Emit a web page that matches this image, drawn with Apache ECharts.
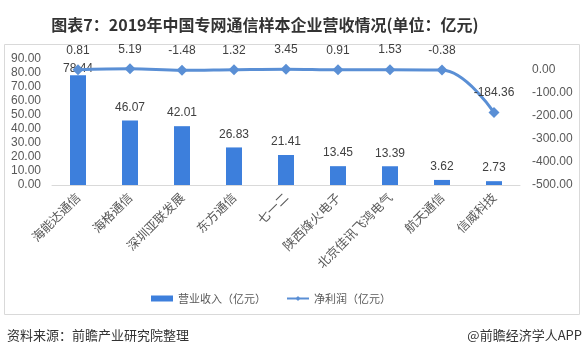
<!DOCTYPE html>
<html><head><meta charset="utf-8">
<script src="https://cdn.jsdelivr.net/npm/echarts@6/dist/echarts.min.js"></script>
<style>html,body{margin:0;padding:0;background:#fff;}#c{width:582px;height:357px;}</style>
</head><body><div id="c"></div>
<script>
const categories = ['海能达通信','海格通信','深圳亚联发展','东方通信','七一二','陕西烽火电子','北京佳讯飞鸿电气','航天通信','信威科技'];
const revenue = [78.44, 46.07, 42.01, 26.83, 21.41, 13.45, 13.39, 3.62, 2.73];
const profit = [0.81, 5.19, -1.48, 1.32, 3.45, 0.91, 1.53, -0.38, -184.36];
const leftTicks = {min: 0, max: 90, interval: 10};
const rightTicks = {min: -500, max: 0, interval: 100};

const chart = echarts.init(document.getElementById('c'));
const fontF = '"Liberation Sans","Noto Sans CJK SC",sans-serif';
chart.setOption({
  animation: false,
  title: {
    text: '图表7：2019年中国专网通信样本企业营收情况(单位：亿元)',
    left: 260, textAlign: 'center', top: 12,
    textStyle: {fontSize: 16, fontWeight: 'bold', color: '#333', fontFamily: '"Noto Sans CJK SC",sans-serif'}
  },
  graphic: [
    {type: 'rect', shape: {x: 4.5, y: 44.5, width: 575, height: 270}, style: {fill: 'none', stroke: '#d9d9d9', lineWidth: 1}, z: -1},
    {type: 'text', left: 7, top: 329, style: {text: '资料来源：前瞻产业研究院整理', fontSize: 13, fill: '#333', fontFamily: '"Noto Sans CJK SC",sans-serif'}},
    {type: 'text', right: 0, top: 329, style: {text: '@前瞻经济学人APP', fontSize: 13, fill: '#333', fontFamily: '"Noto Sans CJK SC",sans-serif'}}
  ],
  legend: {
    left: 146, top: 288, itemGap: 20,
    textStyle: {fontSize: 11, color: '#595959', fontFamily: '"Noto Sans CJK SC",sans-serif'},
    data: [
      {name: '营业收入（亿元）', icon: 'rect', itemStyle: {color: '#3d7fdc'}},
      {name: '净利润（亿元）'}
    ],
    itemWidth: 22, itemHeight: 6
  },
  grid: [
    {left: 52, right: 62, top: 59, bottom: 172},
    {left: 52, right: 62, top: 70, bottom: 172}
  ],
  xAxis: [
    {type: 'category', gridIndex: 0, data: categories,
     axisLine: {lineStyle: {color: '#d9d9d9'}}, axisTick: {show: false},
     axisLabel: {rotate: 45, interval: 0, margin: 10, fontSize: 12.5, color: '#595959', fontFamily: '"Noto Sans CJK SC",sans-serif'}},
    {type: 'category', gridIndex: 1, data: categories, show: false, axisLabel: {interval: 0}}
  ],
  yAxis: [
    {type: 'value', gridIndex: 0, position: 'left', min: leftTicks.min, max: leftTicks.max, interval: leftTicks.interval,
     splitLine: {show: false}, axisLine: {show: false}, axisTick: {show: false},
     axisLabel: {margin: 11, fontSize: 12, color: '#595959', fontFamily: fontF, formatter: v => v.toFixed(2)}},
    {type: 'value', gridIndex: 1, position: 'right', min: rightTicks.min, max: rightTicks.max, interval: rightTicks.interval,
     splitLine: {show: false}, axisLine: {show: false}, axisTick: {show: false},
     axisLabel: {margin: 12, fontSize: 12, color: '#595959', fontFamily: fontF, formatter: v => v.toFixed(2)}}
  ],
  series: [
    {name: '营业收入（亿元）', type: 'bar', xAxisIndex: 0, yAxisIndex: 0, barWidth: 16,
     data: revenue.map((v, i) => i === 0 ? {value: v, label: {distance: 0}} : v),
     itemStyle: {color: '#3d7fdc'},
     label: {show: true, position: 'top', distance: 7, fontSize: 12, color: '#404040', fontFamily: fontF, formatter: p => p.value.toFixed(2)}},
    {name: '净利润（亿元）', type: 'line', xAxisIndex: 1, yAxisIndex: 1, data: profit, smooth: 0.4, clip: false,
     symbol: 'diamond', symbolSize: 11, showSymbol: true, showAllSymbol: true,
     lineStyle: {color: '#5a8fd5', width: 3}, itemStyle: {color: '#5a8fd5'},
     labelLayout: {hideOverlap: false},
     label: {show: true, position: 'top', distance: 8, fontSize: 12, color: '#404040', fontFamily: fontF, formatter: p => p.value.toFixed(2)}}
  ]
});
</script>
</body></html>
